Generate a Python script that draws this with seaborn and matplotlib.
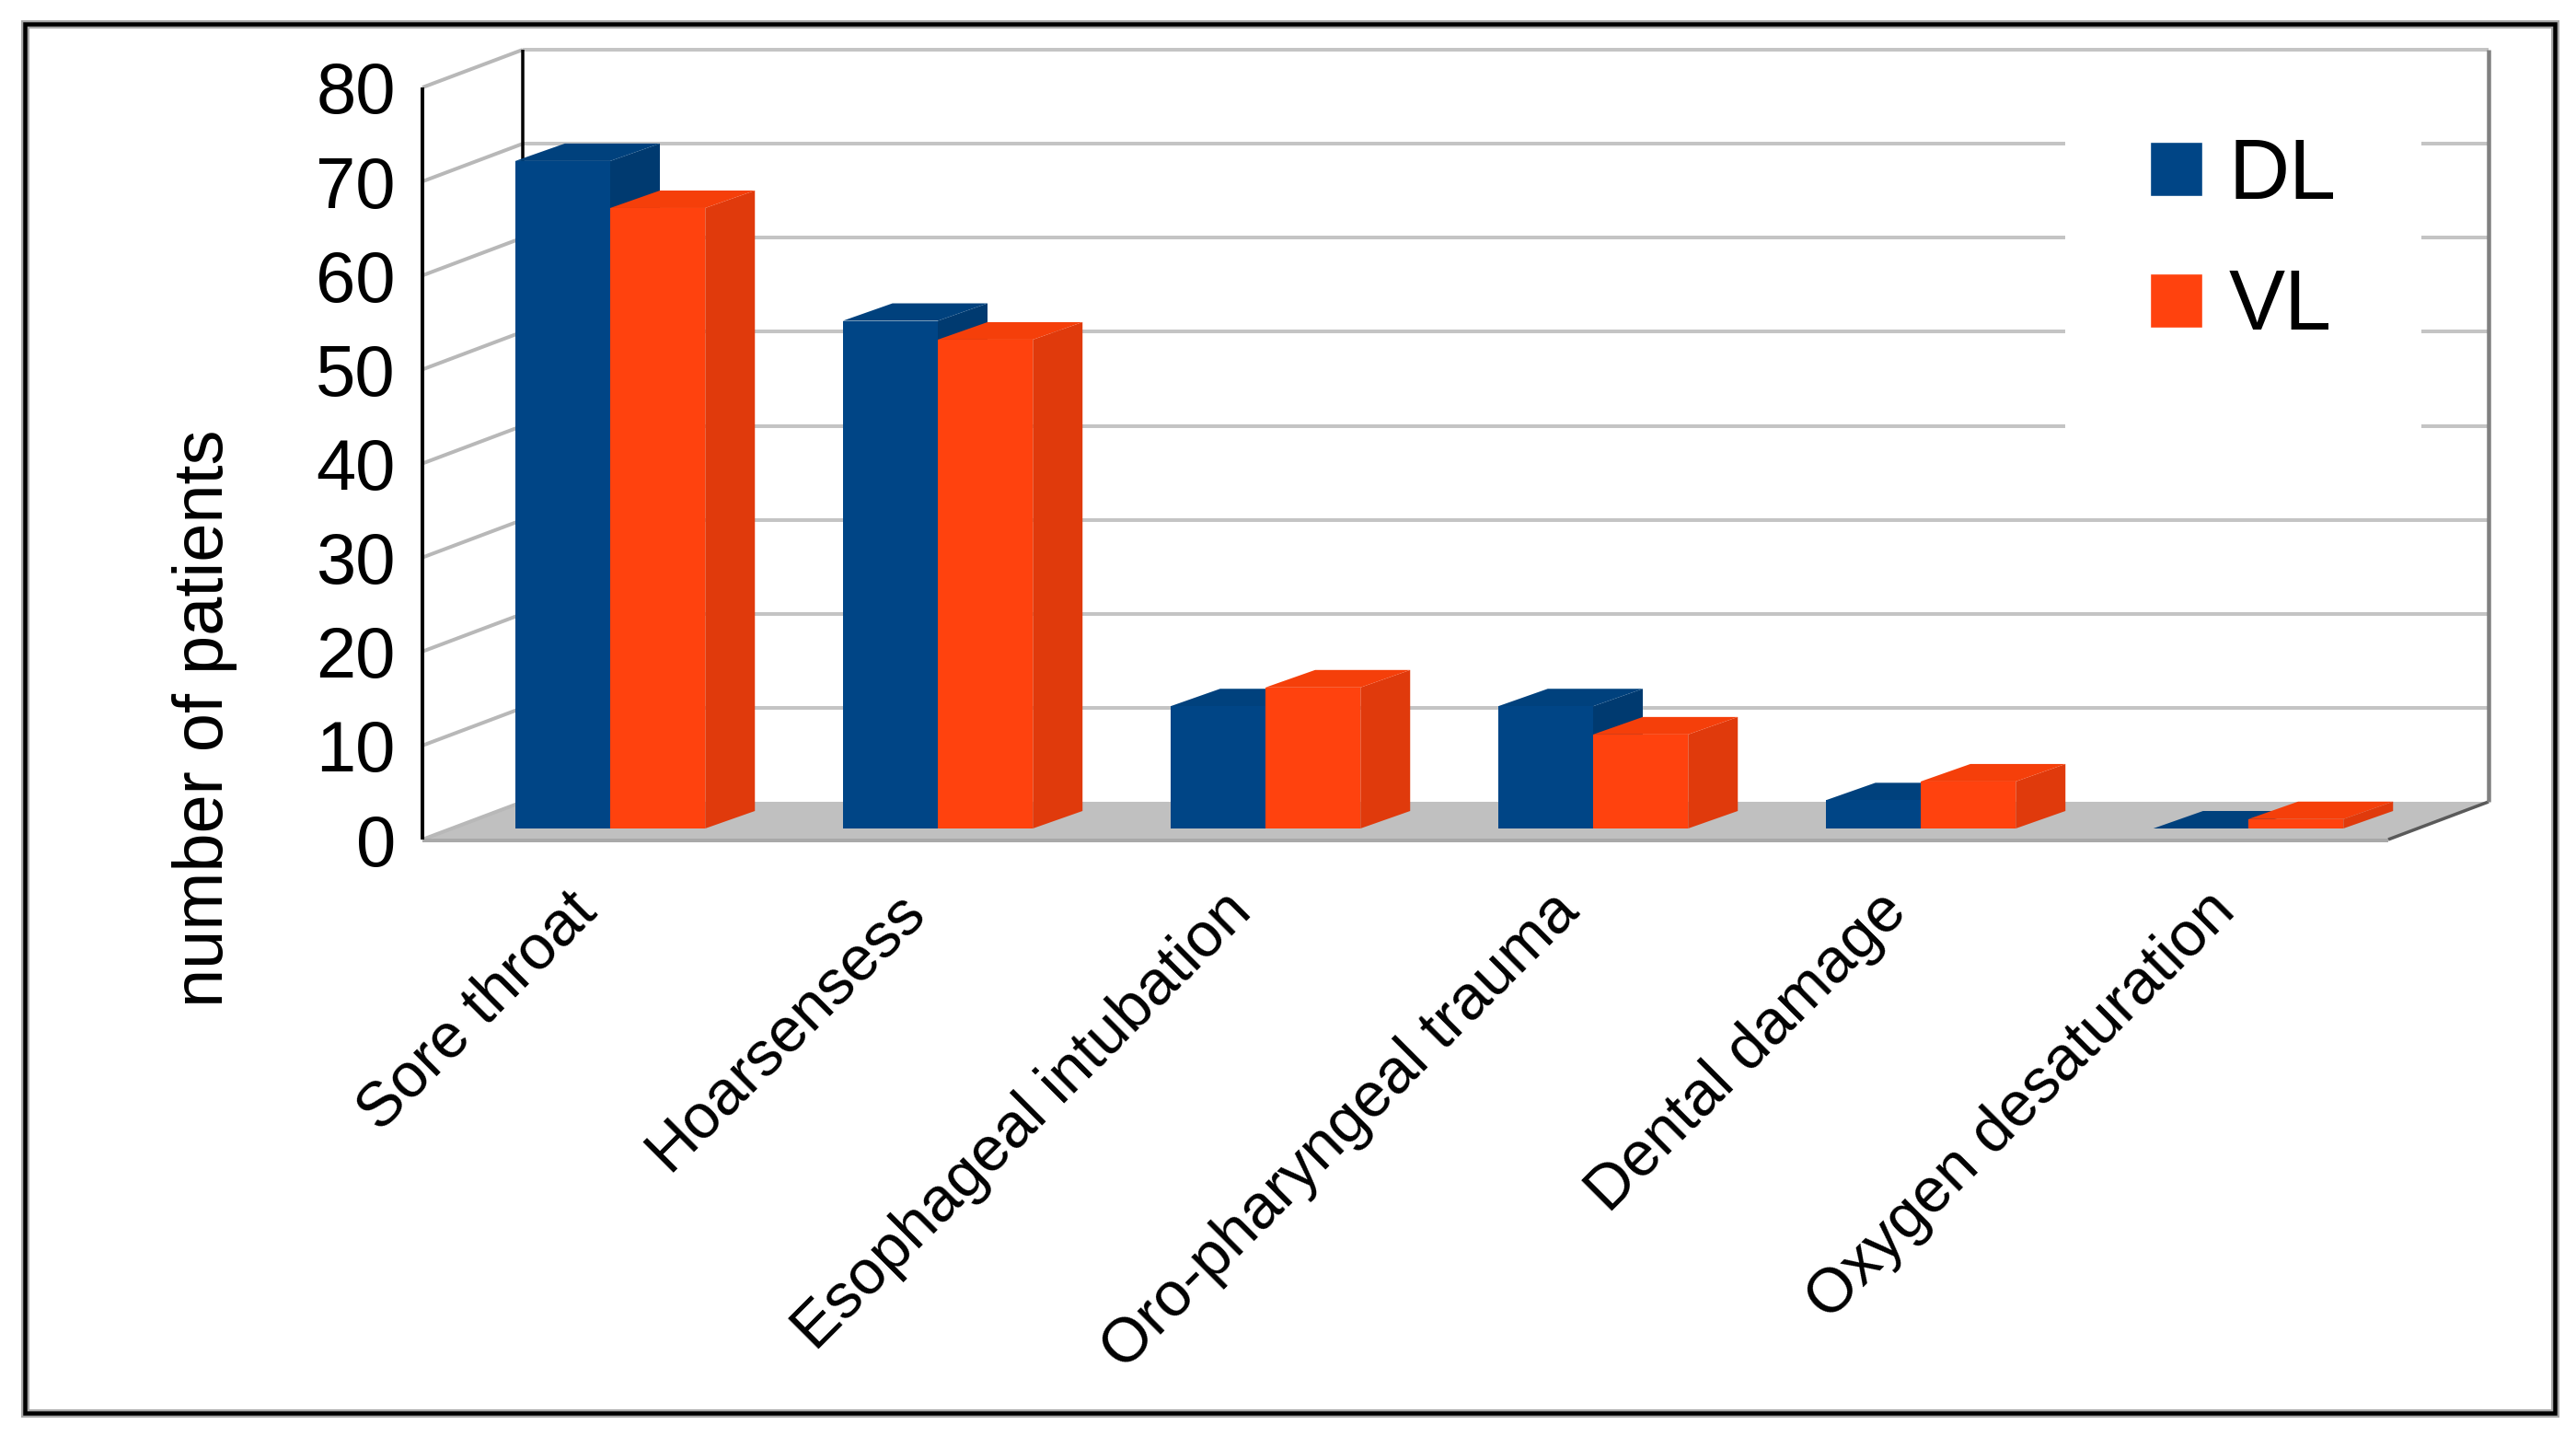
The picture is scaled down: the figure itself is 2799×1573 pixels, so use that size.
import numpy as np
import pandas as pd
import matplotlib
matplotlib.use("Agg")
import matplotlib.pyplot as plt
import seaborn as sns
from matplotlib.patches import Polygon, Rectangle
from matplotlib.transforms import Affine2D, IdentityTransform

sns.set_theme(style="white")
plt.rcParams['font.family'] = ['Liberation Sans', 'DejaVu Sans']

# Values
symptoms = ['Sore throat', 'Hoarsensess', 'Esophageal intubation',
            'Oro-pharyngeal trauma', 'Dental damage', 'Oxygen desaturation']
dl_values = [71, 54, 13, 13, 3, 0]
vl_values = [66, 52, 15, 10, 5, 1]
y_ticks = [0, 10, 20, 30, 40, 50, 60, 70, 80]

colors = {'DL': '#004586', 'VL': '#FF420E'}
top_colors = {'DL': '#00417D', 'VL': '#F53F0A'}
side_colors = {'DL': '#003A70', 'VL': '#E03A0C'}

df = pd.DataFrame({
    'symptom': symptoms * 2,
    'patients': dl_values + vl_values,
    'group': ['DL'] * len(symptoms) + ['VL'] * len(symptoms),
})

W, H = 2799, 1573
fig = plt.figure(figsize=(W / 100, H / 100), dpi=100)
ax = fig.add_axes([459 / W, (H - 912) / H, 2136 / W, 817 / H])

sns.barplot(data=df, x='symptom', y='patients', hue='group', palette=colors,
            hue_order=['DL', 'VL'], width=0.58, gap=0, saturation=1, ax=ax)
ax.set_xlim(-0.5, 5.5)
ax.set_ylim(0, 80)
ax.set_yticks(y_ticks)
sns.despine(ax=ax, left=True, bottom=True)
ax.patch.set_alpha(0)
ax.tick_params(axis='both', length=0)
ax.tick_params(axis='y', labelsize=56, pad=21, labelcolor='black')

ax.set_xlabel('')
ax.set_ylabel('number of patients', fontsize=54.5, color='black')
ax.yaxis.set_label_coords(222, 0, transform=IdentityTransform())
ax.yaxis.label.set_y(H - 780)
ax.yaxis.label.set_va('center')

# Category labels sit at 45 degrees, ending under the bars
label_shift = Affine2D().translate(1, -63)
for lab in ax.get_xticklabels():
    lab.set_rotation(45)
    lab.set_ha('right')
    lab.set_va('center')
    lab.set_rotation_mode('anchor')
    lab.set_fontsize(49)
    lab.set_color('black')
    lab.set_transform(lab.get_transform() + label_shift)

# 3D look: everything below is worked out in pixels from the axes scales
WALL_DX, WALL_DY = 109, 41
BAR_SHIFT_X, BAR_SHIFT_Y = 26, 12
BAR_DX, BAR_DY = 54, 19
px = IdentityTransform()


def to_px(x, y):
    return ax.transData.transform((x, y))


def add_line(p0, p1, color, width, z=1, **kw):
    ax.plot([p0[0], p1[0]], [p0[1], p1[1]], color=color, lw=width * 0.72,
            transform=px, clip_on=False, zorder=z, solid_capstyle='butt', **kw)


def add_poly(points, color, z):
    ax.add_patch(Polygon(points, closed=True, facecolor=color, edgecolor='none',
                         transform=px, clip_on=False, zorder=z))


x0, x1 = ax.get_xlim()
wall = np.array([WALL_DX, WALL_DY])

# Floor
add_poly([to_px(x0, 0), to_px(x1, 0), to_px(x1, 0) + wall, to_px(x0, 0) + wall],
         '#C0C0C0', 1)
add_line(to_px(x0, 0) - [0, 1], to_px(x1, 0) - [0, 1], '#A9A9A9', 4, z=1.2)
add_line(to_px(x1, 0), to_px(x1, 0) + wall, '#5A5A5A', 3.5, z=1.2)

# Grid on the back wall and on the left wall
for v in y_ticks:
    if v > 0:
        add_line(to_px(x0, v) + wall, to_px(x1, v) + wall, '#C4C4C4', 4)
    add_line(to_px(x0, v), to_px(x0, v) + wall, '#B8B8B8', 4, z=1.1)

# Wall edges
add_line(to_px(x0, 0), to_px(x0, 80), 'black', 4, z=1.5)
add_line(to_px(x0, 0) + wall, to_px(x0, 80) + wall, 'black', 3.5, z=1.5)
add_line(to_px(x1, 0) + wall, to_px(x1, 80) + wall, '#808080', 4.5, z=1.5)

# Bars: move the seaborn fronts into the box and add their side and top faces
bar_shift = Affine2D().translate(BAR_SHIFT_X, BAR_SHIFT_Y)
step = np.array([BAR_SHIFT_X, BAR_SHIFT_Y])
depth = np.array([BAR_DX, BAR_DY])
for i, (group, container) in enumerate(zip(['DL', 'VL'], ax.containers)):
    z = 3 + i * 2
    for bar in container:
        bar.set_transform(ax.transData + bar_shift)
        bar.set_clip_on(False)
        bar.set_zorder(z + 1)
        bar.set_linewidth(0)
        left = bar.get_x()
        right = left + bar.get_width()
        top = bar.get_height()
        bl, br = to_px(left, 0) + step, to_px(right, 0) + step
        tl, tr = to_px(left, top) + step, to_px(right, top) + step
        add_poly([br, br + depth, tr + depth, tr], side_colors[group], z)
        add_poly([tl, tr, tr + depth, tl + depth], top_colors[group], z)

# Legend
sns.move_legend(ax, 'upper left', bbox_to_anchor=(2244, H - 57),
                bbox_transform=px, title=None, frameon=True, framealpha=1,
                facecolor='white', edgecolor='none', fancybox=False,
                fontsize=66, borderpad=1.0, borderaxespad=0,
                handlelength=0.62, handleheight=0.62, handletextpad=0.32,
                labelspacing=0.62, labelcolor='black')
ax.get_legend().set_zorder(2)

# Outer frame
for color, width in [('#A8A8A8', 9), ('black', 4.5)]:
    fig.add_artist(Rectangle((27, H - 1535), 2749, 1509, fill=False, edgecolor=color,
                             lw=width * 0.72, transform=px))

fig.savefig('out.png', dpi=100)
